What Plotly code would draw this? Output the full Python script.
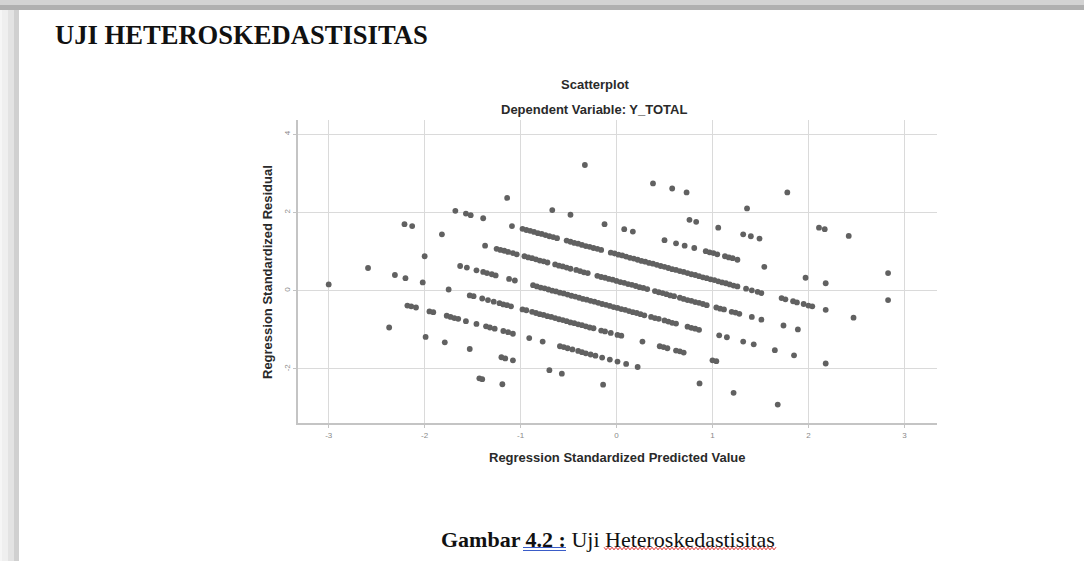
import plotly.graph_objects as go

W, H = 1084, 561

# ---- data: residual bands (x = standardized predicted, y = standardized residual)
band_p5 = [(1.78, 2.51)]
band_p4 = [(-0.33, 3.21), (0.38, 2.74), (0.58, 2.61), (0.73, 2.51), (1.36, 2.10),
           (2.11, 1.61), (2.17, 1.57), (2.42, 1.40)]
band_p3 = [(0.76, 1.81), (0.83, 1.76), (1.06, 1.61), (1.32, 1.44), (1.40, 1.39),
           (1.49, 1.33), (2.83, 0.45)]
band_p2 = [(-1.14, 2.37), (-0.67, 2.06), (-0.48, 1.94), (-0.125, 1.70), (0.08, 1.57),
           (0.17, 1.51), (0.50, 1.29), (0.62, 1.21), (0.71, 1.15), (0.81, 1.09),
           (0.93, 1.01), (0.97, 0.98), (1.01, 0.96), (1.05, 0.93), (1.13, 0.88),
           (1.17, 0.85), (1.21, 0.83), (1.26, 0.79), (1.54, 0.61), (1.97, 0.33),
           (2.18, 0.19), (2.83, -0.24)]
band_p1 = [(-1.68, 2.04), (-1.57, 1.97), (-1.52, 1.93), (-1.39, 1.85), (-1.09, 1.65),
           (-0.98, 1.58), (-0.94, 1.55), (-0.90, 1.53), (-0.86, 1.50), (-0.82, 1.47),
           (-0.78, 1.45), (-0.74, 1.42), (-0.70, 1.39), (-0.66, 1.37), (-0.62, 1.34),
           (-0.52, 1.28), (-0.48, 1.25), (-0.44, 1.22), (-0.40, 1.20), (-0.36, 1.17),
           (-0.32, 1.14), (-0.28, 1.12), (-0.24, 1.09), (-0.20, 1.07), (-0.16, 1.04),
           (-0.06, 0.97), (-0.02, 0.95), (0.02, 0.92), (0.06, 0.90), (0.10, 0.87),
           (0.14, 0.84), (0.18, 0.82), (0.22, 0.79), (0.26, 0.76), (0.30, 0.74),
           (0.34, 0.71), (0.38, 0.69), (0.42, 0.66), (0.46, 0.63), (0.50, 0.61),
           (0.54, 0.58), (0.58, 0.55), (0.62, 0.53), (0.66, 0.50), (0.70, 0.48),
           (0.74, 0.45), (0.78, 0.42), (0.82, 0.40), (0.86, 0.37), (0.90, 0.34),
           (0.94, 0.32), (0.98, 0.29), (1.02, 0.27), (1.06, 0.24), (1.10, 0.21),
           (1.14, 0.19), (1.18, 0.16), (1.22, 0.13), (1.26, 0.11), (1.35, 0.05),
           (1.41, 0.01), (1.47, -0.03), (1.51, -0.06), (1.72, -0.19), (1.76, -0.22),
           (1.84, -0.27), (1.88, -0.30), (1.95, -0.34), (2.00, -0.38), (2.04, -0.40),
           (2.18, -0.49), (2.47, -0.69)]
band_0 = [(-2.21, 1.70), (-2.13, 1.65), (-1.82, 1.44), (-1.37, 1.15), (-1.25, 1.07),
          (-1.21, 1.04), (-1.17, 1.02), (-1.13, 0.99), (-1.08, 0.96), (-1.04, 0.93),
          (-0.96, 0.88), (-0.92, 0.85), (-0.88, 0.83), (-0.84, 0.80), (-0.80, 0.77),
          (-0.76, 0.75), (-0.72, 0.72), (-0.64, 0.67), (-0.60, 0.64), (-0.56, 0.62),
          (-0.52, 0.59), (-0.48, 0.56), (-0.42, 0.53), (-0.38, 0.50), (-0.34, 0.47),
          (-0.30, 0.45), (-0.20, 0.38), (-0.16, 0.35), (-0.12, 0.33), (-0.08, 0.30),
          (-0.04, 0.28), (0.00, 0.25), (0.04, 0.22), (0.08, 0.20), (0.12, 0.17),
          (0.16, 0.15), (0.20, 0.12), (0.24, 0.09), (0.28, 0.07), (0.32, 0.04),
          (0.40, -0.01), (0.44, -0.04), (0.48, -0.06), (0.52, -0.09), (0.56, -0.12),
          (0.60, -0.14), (0.66, -0.18), (0.70, -0.21), (0.74, -0.24), (0.78, -0.26),
          (0.82, -0.29), (0.86, -0.31), (0.90, -0.34), (0.94, -0.37), (1.04, -0.43),
          (1.08, -0.46), (1.12, -0.48), (1.20, -0.54), (1.24, -0.56), (1.28, -0.59),
          (1.41, -0.67), (1.51, -0.74), (1.74, -0.89), (1.89, -0.99)]
band_m1 = [(-2.00, 0.88), (-1.63, 0.63), (-1.56, 0.59), (-1.46, 0.52), (-1.39, 0.48),
           (-1.35, 0.45), (-1.30, 0.42), (-1.26, 0.39), (-1.12, 0.30), (-1.06, 0.26),
           (-0.87, 0.14), (-0.83, 0.11), (-0.79, 0.08), (-0.75, 0.06), (-0.71, 0.03),
           (-0.67, 0.00), (-0.63, -0.02), (-0.59, -0.05), (-0.55, -0.07), (-0.51, -0.10),
           (-0.47, -0.13), (-0.43, -0.15), (-0.39, -0.18), (-0.35, -0.21), (-0.31, -0.23),
           (-0.27, -0.26), (-0.23, -0.28), (-0.19, -0.31), (-0.15, -0.34), (-0.11, -0.36),
           (-0.07, -0.39), (-0.03, -0.42), (0.01, -0.44), (0.05, -0.47), (0.09, -0.49),
           (0.13, -0.52), (0.17, -0.55), (0.21, -0.57), (0.25, -0.60), (0.29, -0.63),
           (0.36, -0.67), (0.40, -0.70), (0.44, -0.72), (0.50, -0.76), (0.54, -0.79),
           (0.58, -0.82), (0.62, -0.84), (0.74, -0.92), (0.78, -0.95), (0.82, -0.97),
           (0.86, -1.00), (1.07, -1.14), (1.15, -1.19), (1.32, -1.30), (1.43, -1.37),
           (1.65, -1.52), (1.85, -1.65), (2.18, -1.86)]
band_m2 = [(-2.59, 0.58), (-2.31, 0.40), (-2.20, 0.32), (-2.02, 0.21), (-1.75, 0.03),
           (-1.53, -0.12), (-1.49, -0.14), (-1.40, -0.20), (-1.34, -0.24), (-1.28, -0.28),
           (-1.22, -0.32), (-1.18, -0.35), (-1.14, -0.37), (-1.10, -0.40), (-0.98, -0.48),
           (-0.94, -0.50), (-0.88, -0.54), (-0.84, -0.57), (-0.80, -0.60), (-0.76, -0.62),
           (-0.72, -0.65), (-0.68, -0.67), (-0.64, -0.70), (-0.60, -0.73), (-0.56, -0.75),
           (-0.52, -0.78), (-0.48, -0.81), (-0.44, -0.83), (-0.40, -0.86), (-0.36, -0.88),
           (-0.32, -0.91), (-0.28, -0.94), (-0.24, -0.96), (-0.16, -1.02), (-0.12, -1.04),
           (-0.06, -1.08), (0.01, -1.13), (0.05, -1.15), (0.27, -1.30), (0.45, -1.42),
           (0.49, -1.44), (0.53, -1.47), (0.62, -1.53), (0.66, -1.55), (0.70, -1.58),
           (1.00, -1.78), (1.04, -1.80)]
band_m3 = [(-3.00, 0.16), (-2.18, -0.38), (-2.14, -0.40), (-2.09, -0.43), (-1.95, -0.53),
           (-1.91, -0.55), (-1.77, -0.64), (-1.73, -0.67), (-1.69, -0.70), (-1.65, -0.72),
           (-1.57, -0.78), (-1.46, -0.85), (-1.36, -0.91), (-1.32, -0.94), (-1.27, -0.97),
           (-1.18, -1.03), (-1.13, -1.06), (-1.08, -1.10), (-0.91, -1.21), (-0.77, -1.30),
           (-0.59, -1.42), (-0.55, -1.44), (-0.51, -1.47), (-0.46, -1.50), (-0.40, -1.54),
           (-0.36, -1.57), (-0.32, -1.60), (-0.27, -1.63), (-0.22, -1.66), (-0.15, -1.71),
           (-0.07, -1.76), (0.01, -1.81), (0.10, -1.87), (0.22, -1.95), (0.865, -2.37),
           (1.22, -2.61), (1.68, -2.91)]
band_m4 = [(-2.37, -0.94), (-1.99, -1.18), (-1.79, -1.32), (-1.53, -1.49), (-1.20, -1.70),
           (-1.16, -1.73), (-1.08, -1.78), (-0.70, -2.03), (-0.57, -2.12), (-0.14, -2.40)]
band_m5 = [(-1.43, -2.24), (-1.40, -2.26), (-1.19, -2.39)]

x_ticks = [-3, -2, -1, 0, 1, 2, 3]
x_ticktext = ["-3", "-2", "-1", "0", "1", "2", "3"]
y_ticks = [-2, 0, 2, 4]
y_ticktext = ["-2", "0", "2", "4"]

page_heading = "UJI HETEROSKEDASTISITAS"
chart_title = "Scatterplot"
chart_subtitle = "Dependent Variable: Y_TOTAL"
x_title = "Regression Standardized Predicted Value"
y_title = "Regression Standardized Residual"
caption_bold = "Gambar"
caption_number = "4.2 :"
caption_rest = "Uji"
caption_word = "Heteroskedastisitas"

all_points = (band_p5 + band_p4 + band_p3 + band_p2 + band_p1 + band_0 +
              band_m1 + band_m2 + band_m3 + band_m4 + band_m5)
xs = [p[0] for p in all_points]
ys = [p[1] for p in all_points]


def px(x):
    return x / W


def py(y):
    return 1 - y / H


fig = go.Figure()
fig.add_trace(go.Scatter(
    x=xs, y=ys, mode="markers",
    marker=dict(color="#616161", size=5.8, line=dict(width=0)),
    hoverinfo="skip", showlegend=False,
))

axis_common = dict(
    showgrid=True, gridcolor="#dadada", gridwidth=1.2,
    zeroline=False, showline=True, linecolor="#c4c4c4", linewidth=2,
    ticks="outside", ticklen=3, tickcolor="#c4c4c4", tickwidth=1,
    tickfont=dict(family="Liberation Sans, Arial", size=8, color="#8a8a8a"),
    fixedrange=True,
)

fig.update_layout(
    width=W, height=H,
    margin=dict(l=0, r=0, t=0, b=0),
    paper_bgcolor="white", plot_bgcolor="white",
    showlegend=False,
    xaxis=dict(domain=[px(298), px(937)], range=[-3.32, 3.34],
               tickmode="array", tickvals=x_ticks, ticktext=x_ticktext,
               **axis_common),
    yaxis=dict(domain=[py(423), py(120)], range=[-3.38, 4.36],
               tickmode="array", tickvals=y_ticks, ticktext=y_ticktext,
               tickangle=-90, **axis_common),
)

# page frame (document viewer edges) and caption underlines
shapes = [
    dict(type="rect", x0=0, x1=1, y0=py(5), y1=py(0), fillcolor="#d3d3d3"),
    dict(type="rect", x0=0, x1=1, y0=py(10), y1=py(5), fillcolor="#b0b0b0"),
    dict(type="rect", x0=px(0), x1=px(2), y0=0, y1=py(10), fillcolor="#f6f6f6"),
    dict(type="rect", x0=px(2), x1=px(8), y0=0, y1=py(10), fillcolor="#efefef"),
    dict(type="rect", x0=px(8), x1=px(14), y0=0, y1=py(10), fillcolor="#e3e3e3"),
    dict(type="rect", x0=px(14), x1=px(19), y0=0, y1=py(10), fillcolor="#d0d0d0"),
]
for s in shapes:
    s.update(xref="paper", yref="paper", line=dict(width=0), layer="above")

# blue double underline under the figure number
for yy in (547.5, 550.5):
    shapes.append(dict(type="line", xref="paper", yref="paper",
                       x0=px(523), x1=px(566), y0=py(yy), y1=py(yy),
                       line=dict(color="#3a5cc8", width=1)))
# red wavy spell-check underline
wave = []
xw = 604.0
i = 0
while xw <= 777:
    yw = 548.5 + (1.3 if i % 2 else -1.3)
    wave.append(("M" if i == 0 else "L") + " %.5f %.5f" % (px(xw), py(yw)))
    xw += 2.0
    i += 1
shapes.append(dict(type="path", xref="paper", yref="paper", path=" ".join(wave),
                   line=dict(color="#e03030", width=1)))
fig.update_layout(shapes=shapes)

sans = "Liberation Sans, Arial"
serif = "Liberation Serif, Times New Roman"
annotations = [
    dict(text="<b>" + page_heading + "</b>", x=px(53), y=py(35), xanchor="left", yanchor="middle",
         font=dict(family=serif, size=26.6, color="#111111")),
    dict(text="<b>" + chart_title + "</b>", x=px(595), y=py(85), xanchor="center", yanchor="middle",
         font=dict(family=sans, size=13, color="#2a2a2a")),
    dict(text="<b>" + chart_subtitle + "</b>", x=px(594), y=py(109), xanchor="center", yanchor="middle",
         font=dict(family=sans, size=13, color="#2a2a2a")),
    dict(text="<b>" + x_title + "</b>", x=px(617), y=py(457), xanchor="center", yanchor="middle",
         font=dict(family=sans, size=13, color="#2a2a2a")),
    dict(text="<b>" + y_title + "</b>", x=px(267), y=py(272), xanchor="center", yanchor="middle",
         textangle=-90, font=dict(family=sans, size=13, color="#2a2a2a")),
    dict(text="<b>%s %s</b> %s %s" % (caption_bold, caption_number, caption_rest, caption_word),
         x=px(608), y=py(539), xanchor="center", yanchor="middle",
         font=dict(family=serif, size=22, color="#111111")),
]
for a in annotations:
    a.update(xref="paper", yref="paper", showarrow=False)
fig.update_layout(annotations=annotations)

fig.write_html("out.html", config={"displayModeBar": False},
               post_script="document.body.style.margin='0px';")
